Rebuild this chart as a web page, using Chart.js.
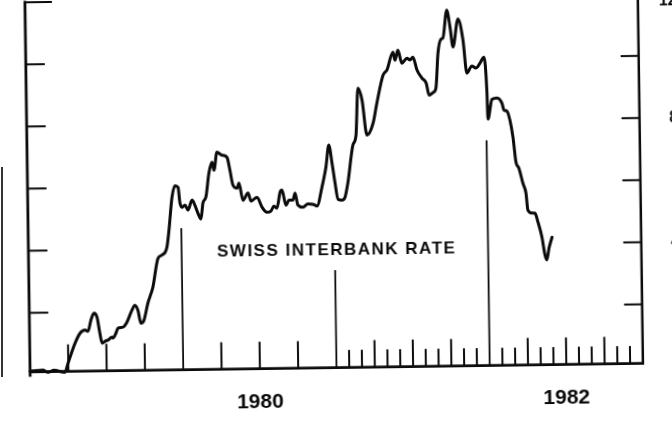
<!DOCTYPE html>
<html>
<head>
<meta charset="utf-8">
<script src="https://cdn.jsdelivr.net/npm/chart.js@4.4.1/dist/chart.umd.min.js"></script>
<style>
  html, body { margin: 0; padding: 0; background: #fff; }
  body { width: 672px; height: 425px; overflow: hidden; position: relative; }
  #wrap { position: absolute; left: 0; top: -42.1px; width: 720px; height: 482px;
          transform-origin: 336px 254.6px; transform: rotate(-0.8deg); }
  #edge { position: absolute; left: 0.5px; top: 167px; width: 2.5px; height: 210px; background: #333; }
</style>
</head>
<body>
<div id="edge"></div>
<div id="wrap"><canvas id="c" width="720" height="482"></canvas></div>
<script>
// ---- data (months since Jan 1979, percent) ----
const months = [0.00,1.01,1.40,1.87,2.73,2.98,3.55,3.95,4.35,4.58,4.82,5.07,5.30,5.51,5.67,5.90,6.14,6.45,6.53,6.77,6.93,7.32,7.64,8.04,8.28,8.51,8.73,8.97,9.30,9.71,10.14,10.45,10.85,11.03,11.30,11.55,11.79,11.92,12.08,12.31,12.54,12.87,13.09,13.32,13.55,13.72,13.96,14.22,14.47,14.62,14.87,15.26,15.65,15.87,16.09,16.41,16.56,16.86,17.26,17.49,17.96,18.34,18.72,19.04,19.28,19.51,19.77,19.92,20.22,20.46,20.77,20.94,21.15,21.55,21.94,22.33,22.65,23.06,23.39,23.64,23.87,24.09,24.30,24.61,24.85,25.10,25.53,25.78,25.98,26.29,26.64,27.13,27.45,27.96,28.28,28.76,28.91,29.15,29.45,29.85,30.09,30.32,30.63,31.01,31.33,31.55,31.88,32.09,32.29,32.54,32.69,33.02,33.26,33.47,33.89,34.26,34.53,34.93,35.25,35.57,35.89,36.08,36.13,36.47,36.86,37.24,37.39,37.63,37.85,38.07,38.28,38.50,38.80,39.03,39.16,39.47,39.71,39.94,40.23,40.45,40.59,40.77,41.02];
const rates = [0.12,0.15,0.08,0.14,0.07,0.36,1.00,1.32,1.42,1.38,1.74,1.96,1.83,1.31,0.99,1.05,1.09,1.18,1.15,1.31,1.47,1.50,1.66,2.04,2.20,2.04,1.62,1.71,2.26,2.77,3.70,3.80,4.05,4.60,5.65,6.03,5.97,5.47,5.33,5.40,5.24,5.56,5.39,5.13,4.94,5.46,5.65,6.42,6.77,6.51,7.09,6.99,6.92,6.50,6.02,5.92,6.08,5.53,5.76,5.50,5.62,5.30,5.13,5.17,5.33,5.26,5.77,5.84,5.35,5.51,5.51,5.74,5.35,5.28,5.38,5.37,5.31,5.92,6.56,7.27,6.69,6.04,5.52,5.49,5.58,6.06,7.26,7.57,9.09,8.70,7.57,7.95,8.60,9.49,9.66,10.23,9.97,10.29,9.87,10.03,9.97,10.06,9.64,9.38,9.22,8.83,8.92,9.05,10.18,10.63,10.66,11.56,11.01,10.37,11.27,10.59,9.52,9.75,9.68,9.84,10.03,8.90,8.03,8.67,8.71,8.54,8.32,8.28,7.99,7.44,6.63,6.44,5.95,5.63,5.08,4.99,4.98,4.69,4.21,3.63,3.47,3.85,4.20];

// year marker lines (month, top value)
const markerMonths = [12, 24, 36];
const markerTops = [4.66, 3.24, 7.35];

// axis ticks and labels
const quarterTicks = [3, 6, 9, 15, 18, 21, 27, 30, 33, 39, 42, 45];
const monthTicks = [25, 26, 28, 29, 31, 32, 34, 35, 37, 38, 40, 41, 43, 44, 46, 47];
const yearLabelMonths = [18, 42];
const yearLabels = ['1980', '1982'];
const yTickValues = [2, 4, 6, 8, 10];
const rightTickLabels = ['4', '8', '12'];
const seriesTitle = 'SWISS INTERBANK RATE';

const INK = '#0b0b0b';
const FONT = '"Liberation Sans", Arial, Helvetica, sans-serif';
Chart.defaults.font.family = FONT;

const datasets = [{
  data: months.map((m, i) => ({ x: m, y: rates[i] })),
  borderColor: INK, borderWidth: 3, pointRadius: 0,
  cubicInterpolationMode: 'monotone', borderJoinStyle: 'round', borderCapStyle: 'round',
  clip: false, order: 0
}];
markerMonths.forEach((m, i) => {
  datasets.push({
    data: [{ x: m, y: 0.1 }, { x: m, y: markerTops[i] }],
    borderColor: INK, borderWidth: 1.8, pointRadius: 0, clip: false, order: 1
  });
});

const frame = {
  id: 'frame',
  beforeDatasetsDraw(chart) {
    const { ctx, chartArea: a, scales: { x, y } } = chart;
    const base = a.bottom;
    const seg = (x1, y1, x2, y2) => { ctx.beginPath(); ctx.moveTo(x1, y1); ctx.lineTo(x2, y2); ctx.stroke(); };
    ctx.save();
    ctx.strokeStyle = INK;
    ctx.lineWidth = 2;
    quarterTicks.forEach(m => { const px = x.getPixelForValue(m); seg(px, base, px, base - 27); });
    monthTicks.forEach(m => { const px = x.getPixelForValue(m); seg(px, base, px, base - 17.5); });
    yTickValues.forEach(v => {
      const py = y.getPixelForValue(v);
      seg(a.left, py, a.left + 19, py);
      seg(a.right, py, a.right - 18, py);
    });
    const pt = y.getPixelForValue(12);
    seg(a.left, pt, a.left + 27, pt);
    ctx.lineWidth = 2.8;
    seg(a.left, pt - 1.4, a.left, base + 5);
    seg(a.left, base, a.right + 1.2, base);
    ctx.lineWidth = 2.5;
    seg(a.right, 0, a.right, base + 1.4);
    ctx.restore();
  },
  afterDatasetsDraw(chart) {
    const { ctx, scales: { x, y } } = chart;
    ctx.save();
    ctx.fillStyle = INK;
    ctx.font = 'bold 17px ' + FONT;
    ctx.letterSpacing = '1.5px';
    ctx.textAlign = 'left';
    ctx.textBaseline = 'alphabetic';
    ctx.fillText(seriesTitle, x.getPixelForValue(14.77), y.getPixelForValue(3.72));
    ctx.restore();
  }
};

new Chart(document.getElementById('c'), {
  type: 'line',
  data: { datasets },
  options: {
    responsive: false, animation: false, devicePixelRatio: 1,
    layout: { padding: { top: 40, left: 0, right: 40.5, bottom: 0 } },
    plugins: { legend: { display: false }, tooltip: { enabled: false } },
    scales: {
      x: {
        type: 'linear', min: 0, max: 48, position: 'bottom',
        grid: { display: false, drawTicks: false }, border: { display: false },
        afterBuildTicks: s => { s.ticks = yearLabelMonths.map(v => ({ value: v })); },
        ticks: {
          autoSkip: false, maxRotation: 0, padding: 21, color: INK,
          font: { size: 21, weight: 'bold' },
          callback: (v, i) => yearLabels[i]
        },
        afterFit: s => { s.height = 72.4; }
      },
      y: {
        type: 'linear', min: 0.1, max: 12, position: 'left',
        grid: { display: false, drawTicks: false }, border: { display: false },
        ticks: { display: false },
        afterFit: s => { s.width = 27.9; }
      },
      y2: {
        type: 'linear', min: 0.1, max: 12, position: 'right',
        grid: { display: false, drawTicks: false }, border: { display: false },
        afterBuildTicks: s => {
          s.ticks = rightTickLabels.map(l => ({ value: Math.min(Number(l), s.max - 0.25) }));
        },
        ticks: {
          crossAlign: 'far', padding: 21, color: INK,
          font: { size: 16, weight: 'bold' },
          callback: (v, i) => rightTickLabels[i]
        },
        afterFit: s => { s.width = 38.7; }
      }
    }
  },
  plugins: [frame]
});
</script>
</body>
</html>
